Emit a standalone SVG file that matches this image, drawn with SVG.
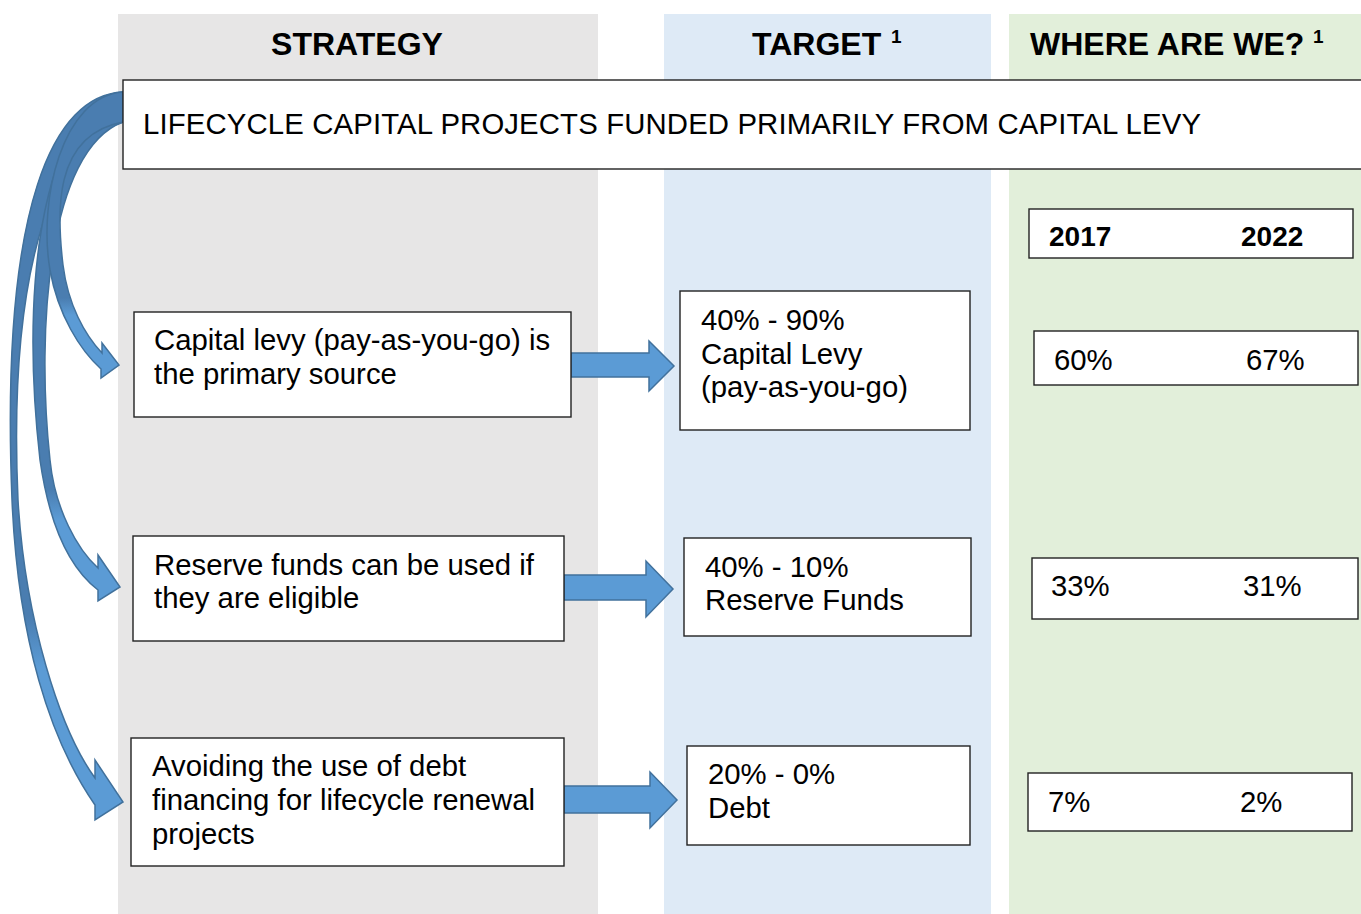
<svg xmlns="http://www.w3.org/2000/svg" width="1361" height="914" viewBox="0 0 1361 914">
  <style>
    .col-strategy { fill: #E7E6E6; }
    .col-target { fill: #DEEAF6; }
    .col-where { fill: #E2EFDA; }
    .box { fill: #FFFFFF; stroke: #222222; stroke-width: 1.4; }
    .title { font-family: "Liberation Sans", Arial, sans-serif; font-weight: bold; font-size: 32px; fill: #000000; }
    .sup { font-family: "Liberation Sans", Arial, sans-serif; font-weight: bold; font-size: 19px; fill: #000000; }
    .txt { font-family: "Liberation Sans", Arial, sans-serif; font-size: 29.33px; fill: #000000; }
    .year { font-family: "Liberation Sans", Arial, sans-serif; font-weight: bold; font-size: 28px; fill: #000000; }
    .arrow { fill: #5B9BD5; stroke: #41719C; stroke-width: 1.5; stroke-linejoin: miter; }
    .curve { stroke: #41719C; stroke-width: 1.5; stroke-linejoin: miter; }
  </style>

  <defs>
    <!-- curved arrows: shaded back surface near the banner, lighter front near the head -->
    <linearGradient id="shade1" gradientUnits="userSpaceOnUse" x1="0" y1="92" x2="0" y2="378">
      <stop offset="0" stop-color="#4A7DB0"/>
      <stop offset="0.72" stop-color="#4A7DB0"/>
      <stop offset="0.78" stop-color="#5B9BD5"/>
      <stop offset="1" stop-color="#5B9BD5"/>
    </linearGradient>
    <linearGradient id="shade2" gradientUnits="userSpaceOnUse" x1="0" y1="92" x2="0" y2="601">
      <stop offset="0" stop-color="#4A7DB0"/>
      <stop offset="0.78" stop-color="#4A7DB0"/>
      <stop offset="0.84" stop-color="#5B9BD5"/>
      <stop offset="1" stop-color="#5B9BD5"/>
    </linearGradient>
    <linearGradient id="shade3" gradientUnits="userSpaceOnUse" x1="0" y1="92" x2="0" y2="820">
      <stop offset="0" stop-color="#4A7DB0"/>
      <stop offset="0.72" stop-color="#4A7DB0"/>
      <stop offset="0.79" stop-color="#5B9BD5"/>
      <stop offset="1" stop-color="#5B9BD5"/>
    </linearGradient>
  </defs>

  <!-- column backgrounds -->
  <g id="columns">
    <rect class="col-strategy" x="118" y="14" width="480" height="900"/>
    <rect class="col-target" x="664" y="14" width="327" height="900"/>
    <rect class="col-where" x="1009" y="14" width="352" height="900"/>
  </g>

  <!-- column titles -->
  <g id="titles">
    <text class="title" x="357" y="55" text-anchor="middle">STRATEGY</text>
    <text class="title" x="752" y="55">TARGET</text>
    <text class="sup" x="891" y="43">1</text>
    <text class="title" x="1030" y="55">WHERE ARE WE?</text>
    <text class="sup" x="1313" y="43">1</text>
  </g>

  <!-- connectors: curved arrows from the banner and block arrows to the targets -->
  <g id="connectors">
    <path class="curve" fill="url(#shade3)" d="M123 92 C55 95 0 200 12 500 C18 640 50 740 95 805 L95 820 L123 802 L95 760 L95 778 C60 730 25 620 18 500 C10 320 35 150 123 122 Z"/>
    <path class="curve" fill="url(#shade2)" d="M123 92 C60 96 15 240 40 460 C50 530 72 570 98 590 L98 601 L120 587 L98 555 L98 568 C78 550 55 510 50 460 C36 330 48 150 123 122 Z"/>
    <path class="curve" fill="url(#shade1)" d="M123 92 C62 96 38 200 50 270 C58 315 80 350 101 369 L101 378 L119 365 L102 343 L102 353 C85 335 68 305 63 265 C57 215 52 135 123 122 Z"/>
    <path class="arrow" d="M571 353 L649 353 L649 341 L674 366 L649 391 L649 377 L571 377 Z"/>
    <path class="arrow" d="M564 575 L646 575 L646 561 L673 589 L646 617 L646 600 L564 600 Z"/>
    <path class="arrow" d="M564 786 L650 786 L650 772 L677 800 L650 828 L650 813 L564 813 Z"/>
  </g>

  <!-- banner -->
  <g id="banner">
    <rect class="box" x="123" y="80" width="1250" height="89"/>
    <text class="txt" x="143" y="134" textLength="1058" lengthAdjust="spacing">LIFECYCLE CAPITAL PROJECTS FUNDED PRIMARILY FROM CAPITAL LEVY</text>
  </g>

  <!-- strategy nodes -->
  <g id="strategy-levy">
    <rect class="box" x="134" y="312" width="437" height="105"/>
    <text class="txt" x="154" y="350">Capital levy (pay-as-you-go) is</text>
    <text class="txt" x="154" y="384">the primary source</text>
  </g>
  <g id="strategy-reserve">
    <rect class="box" x="133" y="536" width="431" height="105"/>
    <text class="txt" x="154" y="575">Reserve funds can be used if</text>
    <text class="txt" x="154" y="608">they are eligible</text>
  </g>
  <g id="strategy-debt">
    <rect class="box" x="131" y="738" width="433" height="128"/>
    <text class="txt" x="152" y="776">Avoiding the use of debt</text>
    <text class="txt" x="152" y="810">financing for lifecycle renewal</text>
    <text class="txt" x="152" y="844">projects</text>
  </g>

  <!-- target nodes -->
  <g id="target-levy">
    <rect class="box" x="680" y="291" width="290" height="139"/>
    <text class="txt" x="701" y="330">40% - 90%</text>
    <text class="txt" x="701" y="364">Capital Levy</text>
    <text class="txt" x="701" y="397">(pay-as-you-go)</text>
  </g>
  <g id="target-reserve">
    <rect class="box" x="684" y="538" width="287" height="98"/>
    <text class="txt" x="705" y="577">40% - 10%</text>
    <text class="txt" x="705" y="610">Reserve Funds</text>
  </g>
  <g id="target-debt">
    <rect class="box" x="687" y="746" width="283" height="99"/>
    <text class="txt" x="708" y="784">20% - 0%</text>
    <text class="txt" x="708" y="818">Debt</text>
  </g>

  <!-- status nodes -->
  <g id="where-years">
    <rect class="box" x="1029" y="209" width="324" height="49"/>
    <text class="year" x="1049" y="246">2017</text>
    <text class="year" x="1241" y="246">2022</text>
  </g>
  <g id="where-levy">
    <rect class="box" x="1034" y="331" width="324" height="54"/>
    <text class="txt" x="1054" y="370">60%</text>
    <text class="txt" x="1246" y="370">67%</text>
  </g>
  <g id="where-reserve">
    <rect class="box" x="1032" y="558" width="326" height="61"/>
    <text class="txt" x="1051" y="596">33%</text>
    <text class="txt" x="1243" y="596">31%</text>
  </g>
  <g id="where-debt">
    <rect class="box" x="1028" y="773" width="324" height="58"/>
    <text class="txt" x="1048" y="812">7%</text>
    <text class="txt" x="1240" y="812">2%</text>
  </g>
</svg>
